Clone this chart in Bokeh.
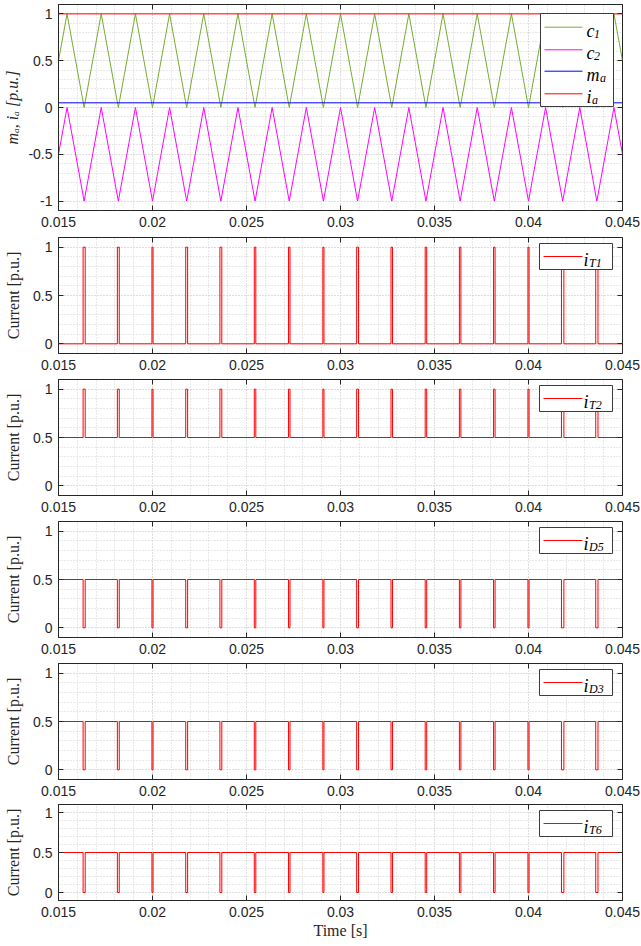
from bokeh.plotting import figure
from bokeh.layouts import column
from bokeh.models import (FixedTicker, BoxAnnotation, Label, LinearAxis,
                          CustomJSTickFormatter, Range1d)
from bokeh.embed import file_html
from bokeh.resources import INLINE
import numpy as np

# ---------------- data ----------------
t_start, t_end = 0.015, 0.045
x_ticks = [0.015, 0.02, 0.025, 0.03, 0.035, 0.04, 0.045]

# carrier vertex times (triangle, 550 Hz)
carrier_t = [0.015,
             0.015455, 0.016364, 0.017273, 0.018182, 0.019091, 0.020000,
             0.020909, 0.021818, 0.022727, 0.023636, 0.024545, 0.025455,
             0.026364, 0.027273, 0.028182, 0.029091, 0.030000, 0.030909,
             0.031818, 0.032727, 0.033636, 0.034545, 0.035455, 0.036364,
             0.037273, 0.038182, 0.039091, 0.040000, 0.040909, 0.041818,
             0.042727, 0.043636, 0.044545,
             0.045]
c1_vals = [0.5,
           1, 0, 1, 0, 1, 0, 1, 0, 1, 0, 1, 0, 1, 0, 1, 0,
           1, 0, 1, 0, 1, 0, 1, 0, 1, 0, 1, 0, 1, 0, 1, 0, 1,
           0.5]
c2_vals = [-0.5,
           0, -1, 0, -1, 0, -1, 0, -1, 0, -1, 0, -1, 0, -1, 0, -1,
           0, -1, 0, -1, 0, -1, 0, -1, 0, -1, 0, -1, 0, -1, 0, -1, 0,
           -0.5]
ma_level = 0.05
ia_level = 1.0

# switching pulses (on / off instants)
pulse_on = [0.016309, 0.018132, 0.019970, 0.021768, 0.023586, 0.025415,
            0.027233, 0.029061, 0.030859, 0.032687, 0.034505, 0.036324,
            0.038142, 0.039970, 0.041753, 0.043576]
pulse_off = [0.016419, 0.018232, 0.020030, 0.021868, 0.023686, 0.025495,
             0.027313, 0.029121, 0.030959, 0.032767, 0.034585, 0.036404,
             0.038222, 0.040030, 0.041883, 0.043696]

series_names = ["T1", "T2", "D5", "D3", "T6"]
series_base = [0.0, 0.5, 0.5, 0.5, 0.5]
series_pulse = [1.0, 1.0, 0.0, 0.0, 0.0]

# ---------------- styling ----------------
AX = "#262626"
GRID = "#d2d2d2"
TICK_FONT = "Liberation Sans"
SERIF = "Liberation Serif"
FW = 564

x_minor = [round(v, 4) for v in np.arange(0.015, 0.0451, 0.001)]
fmt = CustomJSTickFormatter(code="return tick.toString();")


def make_fig(y0, y1, yticks, fh, top, bottom, ylabel, label_standoff, xlabel=None):
    p = figure(frame_width=FW, frame_height=fh, output_backend="svg",
               toolbar_location=None, x_range=Range1d(t_start, t_end),
               y_range=Range1d(y0, y1), min_border_left=58,
               min_border_right=19, min_border_top=top,
               min_border_bottom=bottom)
    p.background_fill_color = "white"
    p.border_fill_color = "white"
    p.outline_line_color = AX
    p.outline_line_width = 1
    y_minor = [round(v, 2) for v in np.arange(y0, y1 + 1e-9, 0.1)]
    xt = FixedTicker(ticks=x_ticks, minor_ticks=x_minor)
    yt = FixedTicker(ticks=yticks, minor_ticks=y_minor)
    p.xaxis.ticker = xt
    p.yaxis.ticker = yt
    p.xgrid.ticker = xt
    p.ygrid.ticker = yt
    for g in (p.xgrid, p.ygrid):
        g.grid_line_color = GRID
        g.grid_line_dash = "1 2"
        g.grid_line_width = 1
        g.minor_grid_line_color = GRID
        g.minor_grid_line_dash = "1 2"
        g.minor_grid_line_width = 1
    for ax in (p.xaxis[0], p.yaxis[0]):
        ax.formatter = fmt
        ax.axis_line_color = AX
        ax.major_tick_in = 5
        ax.major_tick_out = 0
        ax.minor_tick_in = 0
        ax.minor_tick_out = 0
        ax.major_tick_line_color = AX
        ax.major_label_text_font = TICK_FONT
        ax.major_label_text_font_size = "14px"
        ax.major_label_text_color = AX
        ax.major_label_standoff = 6
    p.yaxis.axis_label = ylabel
    p.yaxis.axis_label_text_font = SERIF
    p.yaxis.axis_label_text_font_size = "16px"
    p.yaxis.axis_label_text_font_style = "normal"
    p.yaxis.axis_label_text_color = AX
    p.yaxis.axis_label_standoff = label_standoff
    if xlabel:
        p.xaxis.axis_label = xlabel
        p.xaxis.axis_label_text_font = SERIF
        p.xaxis.axis_label_text_font_size = "16px"
        p.xaxis.axis_label_text_font_style = "normal"
        p.xaxis.axis_label_text_color = AX
        p.xaxis.axis_label_standoff = 2
    # mirrored ticks on top and right (no labels)
    for side, tk in (("above", xt), ("right", yt)):
        ax = LinearAxis(ticker=tk, major_label_text_font_size="1px",
                        major_label_text_color=None,
                        major_label_standoff=0, axis_line_color=None,
                        major_tick_in=5, major_tick_out=0,
                        minor_tick_in=0, minor_tick_out=0,
                        major_tick_line_color=AX)
        p.add_layout(ax, side)
    return p


def add_legend(p, y0, y1, fh, box, entries, text_px, main_size, sub_size):
    """box: (left, top, right, bottom) in px from frame top-left."""
    def px2x(px):
        return t_start + px * (t_end - t_start) / FW

    def py2y(py):
        return y1 - py * (y1 - y0) / fh

    l, t, r, b = box
    p.add_layout(BoxAnnotation(left=px2x(l), right=px2x(r), top=py2y(t),
                               bottom=py2y(b), fill_color="white",
                               fill_alpha=1.0, line_color="#3c3c3c",
                               line_alpha=1.0, line_width=1))
    for color, main, sub, ly, lx0, lx1, main_w in entries:
        p.segment(x0=[px2x(lx0)], y0=[py2y(ly)], x1=[px2x(lx1)],
                  y1=[py2y(ly)], line_color=color, line_width=1,
                  level="overlay")
        p.add_layout(Label(x=px2x(text_px), y=py2y(ly + 3.5), text=main,
                           text_font=SERIF, text_font_style="italic",
                           text_font_size=main_size, text_color="black",
                           text_baseline="alphabetic", text_align="left"))
        p.add_layout(Label(x=px2x(text_px + main_w), y=py2y(ly + 6.5), text=sub,
                           text_font=SERIF, text_font_style="italic",
                           text_font_size=sub_size, text_color="black",
                           text_baseline="alphabetic", text_align="left"))


figs = []

# ---------- panel 1: carriers & references ----------
p1 = make_fig(-1.1, 1.1, [-1, -0.5, 0, 0.5, 1], 206, 4, 24,
              "mₐ, iₐ [p.u.]", 4)
p1.yaxis.axis_label_text_font_style = "italic"
p1.line(carrier_t, c1_vals, line_color="#77AC30", line_width=1)
p1.line(carrier_t, c2_vals, line_color="#FF00FF", line_width=1)
p1.line([t_start, t_end], [ma_level, ma_level], line_color="#0000FF", line_width=1)
p1.line([t_start, t_end], [ia_level, ia_level], line_color="#FF0000", line_width=1)
add_legend(p1, -1.1, 1.1, 206, (482, 9, 555, 102), [
    ("#77AC30", "c", "1", 22.7, 486, 524, 7.5),
    ("#FF00FF", "c", "2", 45.3, 486, 524, 7.5),
    ("#0000FF", "m", "a", 66.7, 486, 524, 13.5),
    ("#FF0000", "i", "a", 89.3, 486, 524, 5.5),
], 528, "18px", "12px")
figs.append(p1)

# ---------- panels 2-6: device currents ----------
layout_spec = [(116, 3, 24), (116, 2, 24), (116, 2, 24), (116, 2, 23), (96, 2, 44)]
for k, name in enumerate(series_names):
    fh, top, bottom = layout_spec[k]
    last = k == len(series_names) - 1
    p = make_fig(-0.1, 1.1, [0, 0.5, 1], fh, top, bottom, "Current [p.u.]", 8,
                 xlabel="Time [s]" if last else None)
    base, peak = series_base[k], series_pulse[k]
    xs, ys = [t_start], [base]
    for on, off in zip(pulse_on, pulse_off):
        xs += [on, on, off, off]
        ys += [base, peak, peak, base]
    xs.append(t_end)
    ys.append(base)
    p.line(xs, ys, line_color="#FF0000", line_width=1)
    add_legend(p, -0.1, 1.1, fh, (481, 6, 554, 32), [
        ("#FF0000", "i", name, 19, 485, 524, 5.5),
    ], 525, "18px", "12px")
    figs.append(p)

layout = column(*figs, spacing=0)
open("out.html", "w").write(file_html(layout, INLINE))
